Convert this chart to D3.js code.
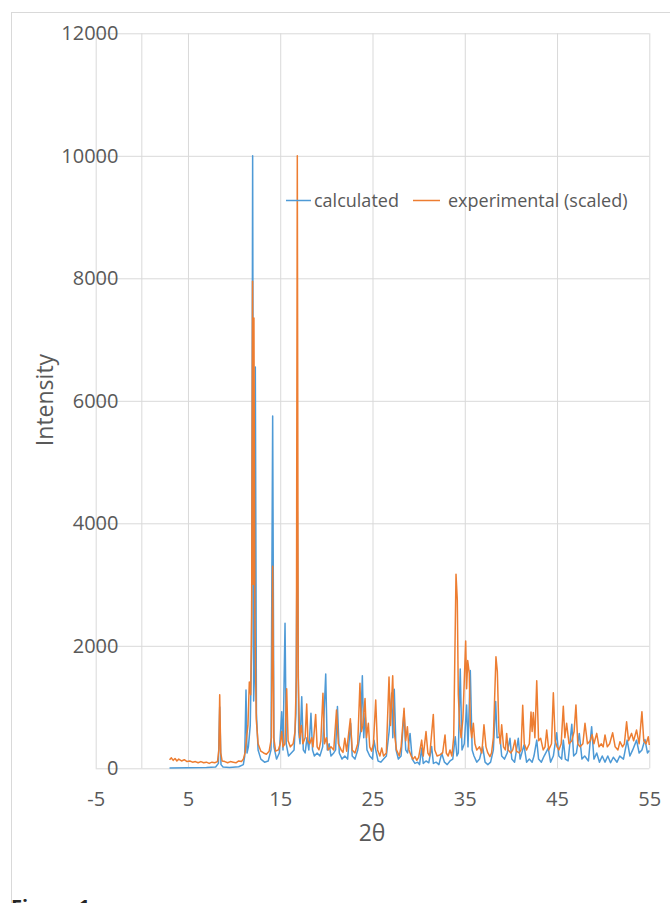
<!DOCTYPE html>
<html><head><meta charset="utf-8">
<script src="https://cdn.jsdelivr.net/npm/d3@7"></script>
<style>body{margin:0;background:#fff;} svg{display:block;font-family:"Open Sans",sans-serif;}</style>
</head><body><svg id="c" width="670" height="903"></svg>
<script>
const xTicks = [-5, 5, 15, 25, 35, 45, 55];
const yTicks = [0, 2000, 4000, 6000, 8000, 10000, 12000];
const seriesNames = ["calculated", "experimental (scaled)"];

const calculated = [[3.0,5],[5,8],[7,12],[8.0,20],[8.3,80],[8.44,1000],[8.58,60],[8.8,20],[9.5,15],[10.5,25],[11.0,60],[11.15,200],[11.29,1280],[11.4,250],[11.55,350],[11.75,700],[11.9,2000],[12.01,10000],[12.12,1100],[12.2,1500],[12.3,6550],[12.42,900],[12.6,300],[12.9,150],[13.3,100],[13.7,120],[14.0,300],[14.18,5750],[14.32,350],[14.6,150],[14.9,250],[15.16,925],[15.3,300],[15.52,2370],[15.65,400],[15.9,200],[16.2,250],[16.5,300],[16.7,900],[16.85,4200],[17.0,600],[17.15,400],[17.33,1170],[17.5,300],[17.7,250],[17.9,500],[18.1,300],[18.33,900],[18.5,300],[18.7,200],[19.0,250],[19.3,200],[19.6,350],[19.93,1540],[20.1,300],[20.3,400],[20.5,200],[20.8,250],[21.0,300],[21.2,1010],[21.4,250],[21.7,150],[22.0,200],[22.3,150],[22.63,735],[22.8,200],[23.1,150],[23.4,300],[23.7,600],[23.9,1510],[24.05,500],[24.2,900],[24.4,300],[24.7,200],[25.0,150],[25.16,460],[25.35,300],[25.6,120],[25.9,100],[26.2,150],[26.5,200],[26.8,600],[27.08,1230],[27.2,500],[27.36,1290],[27.55,300],[27.8,150],[28.1,200],[28.42,925],[28.6,300],[28.8,250],[29.07,570],[29.3,150],[29.6,80],[29.9,100],[30.1,60],[30.33,330],[30.5,80],[30.8,120],[31.1,90],[31.41,355],[31.6,80],[31.9,100],[32.2,60],[32.5,245],[32.8,100],[33.1,60],[33.4,120],[33.7,150],[33.97,515],[34.15,200],[34.3,250],[34.51,1620],[34.7,300],[34.95,400],[35.2,1035],[35.35,350],[35.6,1595],[35.8,300],[36.0,200],[36.3,100],[36.6,150],[36.94,355],[37.2,100],[37.5,60],[37.8,100],[38.1,300],[38.35,1090],[38.5,500],[38.82,515],[39.0,200],[39.3,150],[39.6,250],[39.9,490],[40.1,150],[40.4,100],[40.8,490],[41.0,150],[41.42,380],[41.7,100],[42.0,150],[42.3,100],[42.5,200],[42.8,460],[43.0,150],[43.3,100],[43.6,200],[44.05,330],[44.3,100],[44.6,200],[44.96,580],[45.2,200],[45.5,150],[45.68,460],[45.9,150],[46.2,120],[46.6,720],[46.8,200],[47.1,250],[47.41,570],[47.7,150],[48.0,200],[48.4,120],[48.75,680],[49.0,150],[49.3,250],[49.6,100],[49.9,200],[50.2,100],[50.5,200],[50.8,90],[51.1,180],[51.5,100],[51.8,200],[52.2,150],[52.6,460],[52.9,200],[53.2,300],[53.62,460],[53.9,250],[54.2,300],[54.53,470],[54.8,250],[55.0,290]];

const experimental = [[3.0,140],[3.2,170],[3.4,130],[3.6,160],[3.8,120],[4.0,150],[4.3,120],[4.6,140],[4.9,110],[5.2,120],[5.5,100],[5.8,110],[6.1,90],[6.4,110],[6.7,90],[7.0,100],[7.3,80],[7.6,100],[7.9,90],[8.2,110],[8.35,300],[8.44,1200],[8.55,250],[8.7,120],[9.0,110],[9.3,90],[9.6,110],[9.9,100],[10.2,90],[10.5,120],[10.8,110],[11.0,150],[11.2,260],[11.35,500],[11.5,700],[11.65,1410],[11.8,1200],[11.9,2500],[12.0,7950],[12.08,3000],[12.15,7350],[12.25,2500],[12.4,800],[12.6,400],[12.9,280],[13.2,250],[13.5,230],[13.8,280],[14.05,500],[14.18,3300],[14.3,500],[14.5,280],[14.8,300],[15.0,400],[15.16,600],[15.3,350],[15.5,400],[15.7,1300],[15.85,450],[16.1,350],[16.4,400],[16.6,600],[16.75,1500],[16.85,10000],[16.95,1500],[17.1,500],[17.3,700],[17.45,400],[17.7,500],[17.87,1050],[18.0,450],[18.2,400],[18.4,500],[18.55,350],[18.84,880],[19.0,350],[19.2,300],[19.4,450],[19.63,1225],[19.8,400],[20.0,500],[20.2,300],[20.5,350],[20.8,300],[21.1,950],[21.3,400],[21.6,300],[21.8,260],[22.0,490],[22.2,280],[22.6,810],[22.8,300],[23.1,250],[23.4,400],[23.64,1390],[23.8,600],[23.95,700],[24.19,1140],[24.35,500],[24.55,735],[24.7,350],[24.9,280],[25.1,400],[25.35,1115],[25.55,300],[25.8,200],[26.0,330],[26.2,200],[26.5,250],[26.79,1490],[26.95,700],[27.19,1510],[27.35,600],[27.6,300],[27.9,200],[28.1,350],[28.42,980],[28.6,450],[28.78,680],[28.95,300],[29.2,200],[29.4,150],[29.6,190],[29.8,130],[30.0,180],[30.33,460],[30.5,200],[30.8,600],[31.0,250],[31.2,200],[31.59,880],[31.75,300],[32.0,200],[32.3,220],[32.6,250],[32.86,545],[33.0,250],[33.2,200],[33.4,300],[33.6,200],[33.8,500],[34.05,3170],[34.19,2750],[34.3,1200],[34.45,700],[34.6,500],[34.8,800],[35.1,2080],[35.2,1300],[35.32,1760],[35.49,1550],[35.6,700],[35.75,500],[35.93,735],[36.1,400],[36.3,300],[36.6,350],[36.85,250],[37.08,710],[37.3,350],[37.5,250],[37.73,190],[37.9,250],[38.1,500],[38.38,1820],[38.53,1580],[38.7,600],[38.85,400],[39.0,710],[39.2,350],[39.4,300],[39.54,570],[39.7,300],[40.0,250],[40.2,300],[40.44,460],[40.6,280],[40.9,250],[41.1,300],[41.28,1030],[41.45,400],[41.7,300],[42.0,400],[42.18,920],[42.3,600],[42.43,910],[42.6,500],[42.8,1430],[43.0,450],[43.23,490],[43.5,300],[43.7,350],[43.88,625],[44.1,300],[44.4,400],[44.6,1235],[44.8,450],[45.0,350],[45.2,300],[45.45,400],[45.68,1015],[45.85,500],[46.04,735],[46.3,400],[46.6,450],[46.85,600],[47.05,1035],[47.25,400],[47.5,350],[47.8,400],[48.03,735],[48.3,400],[48.6,450],[48.8,550],[49.0,400],[49.3,570],[49.55,350],[49.8,400],[50.0,350],[50.2,545],[50.45,350],[50.7,400],[51.03,580],[51.3,350],[51.6,300],[51.82,435],[52.1,350],[52.3,400],[52.54,760],[52.75,450],[53.08,570],[53.3,450],[53.62,625],[53.9,400],[54.2,925],[54.4,450],[54.65,400],[54.89,515],[55.0,380]];

const colors = ["#4E9AD6", "#ED7D31"];
const textColor = "#595959";
const gridColor = "#d9d9d9";
const fmt = d => String(d);

const svg = d3.select("#c");
const L = 95.7, R = 649.3, T = 33.3, B = 768.3;
const x = d3.scaleLinear().domain([-5, 55]).range([L, R]);
const y = d3.scaleLinear().domain([0, 12000]).range([B, T]);

// outer chart border
svg.append("rect").attr("x", 11.5).attr("y", 12.5).attr("width", 720).attr("height", 1000)
  .attr("fill", "none").attr("stroke", gridColor).attr("stroke-width", 1);

// horizontal gridlines
svg.append("g").attr("transform", `translate(${L},0)`)
  .call(d3.axisLeft(y).tickValues(yTicks).tickSize(-(R - L)).tickFormat(""))
  .call(g => g.select(".domain").remove())
  .call(g => g.selectAll("line").attr("stroke", gridColor).attr("stroke-width", 1));

// vertical gridlines
svg.append("g").attr("transform", `translate(0,${B})`)
  .call(d3.axisBottom(x).tickValues(xTicks).tickSize(-(B - T)).tickFormat(""))
  .call(g => g.select(".domain").remove())
  .call(g => g.selectAll("line").attr("stroke", gridColor).attr("stroke-width", 1));

// vertical axis line at x=0
svg.append("line").attr("x1", x(0)).attr("x2", x(0)).attr("y1", T).attr("y2", B)
  .attr("stroke", gridColor).attr("stroke-width", 1);

// y tick labels
svg.append("g").attr("transform", `translate(118.5,0)`)
  .call(d3.axisLeft(y).tickValues(yTicks).tickSize(0).tickPadding(0).tickFormat(fmt))
  .call(g => g.select(".domain").remove())
  .call(g => g.selectAll("text").attr("fill", textColor).style("font-size", "20px").style("font-family", "'Open Sans', sans-serif"));

// x tick labels
svg.append("g").attr("transform", `translate(0,${B})`)
  .call(d3.axisBottom(x).tickValues(xTicks).tickSize(0).tickPadding(24).tickFormat(fmt))
  .call(g => g.select(".domain").remove())
  .call(g => g.selectAll("text").attr("fill", textColor).style("font-size", "20px").style("font-family", "'Open Sans', sans-serif"));

// series lines
const line = d3.line().x(d => x(d[0])).y(d => y(d[1]));
[calculated, experimental].forEach((s, i) => {
  svg.append("path").datum(s).attr("d", line).attr("fill", "none")
    .attr("stroke", colors[i]).attr("stroke-width", 1.5).attr("stroke-linejoin", "round");
});

// axis titles
svg.append("text").attr("transform", "translate(53,400) rotate(-90)")
  .attr("text-anchor", "middle").attr("fill", textColor).style("font-size", "23px").text("Intensity");
svg.append("text").attr("x", 372).attr("y", 841)
  .attr("text-anchor", "middle").attr("fill", textColor).style("font-size", "23px").text("2θ");

// legend
const leg = [{x1: 286, x2: 311, tx: 314}, {x1: 413, x2: 440, tx: 448}];
leg.forEach((l, i) => {
  svg.append("line").attr("x1", l.x1).attr("x2", l.x2).attr("y1", 200.5).attr("y2", 200.5)
    .attr("stroke", colors[i]).attr("stroke-width", 1.5);
  svg.append("text").attr("x", l.tx).attr("y", 200.5).attr("dy", "0.35em")
    .attr("fill", textColor).style("font-size", "18px").text(seriesNames[i]);
});

// caption (cut off at bottom, as in the reference)
svg.append("text").attr("x", 11).attr("y", 914).attr("fill", "#262626")
  .style("font-size", "20px").style("font-weight", "bold").text("Figure 1");
</script></body></html>
